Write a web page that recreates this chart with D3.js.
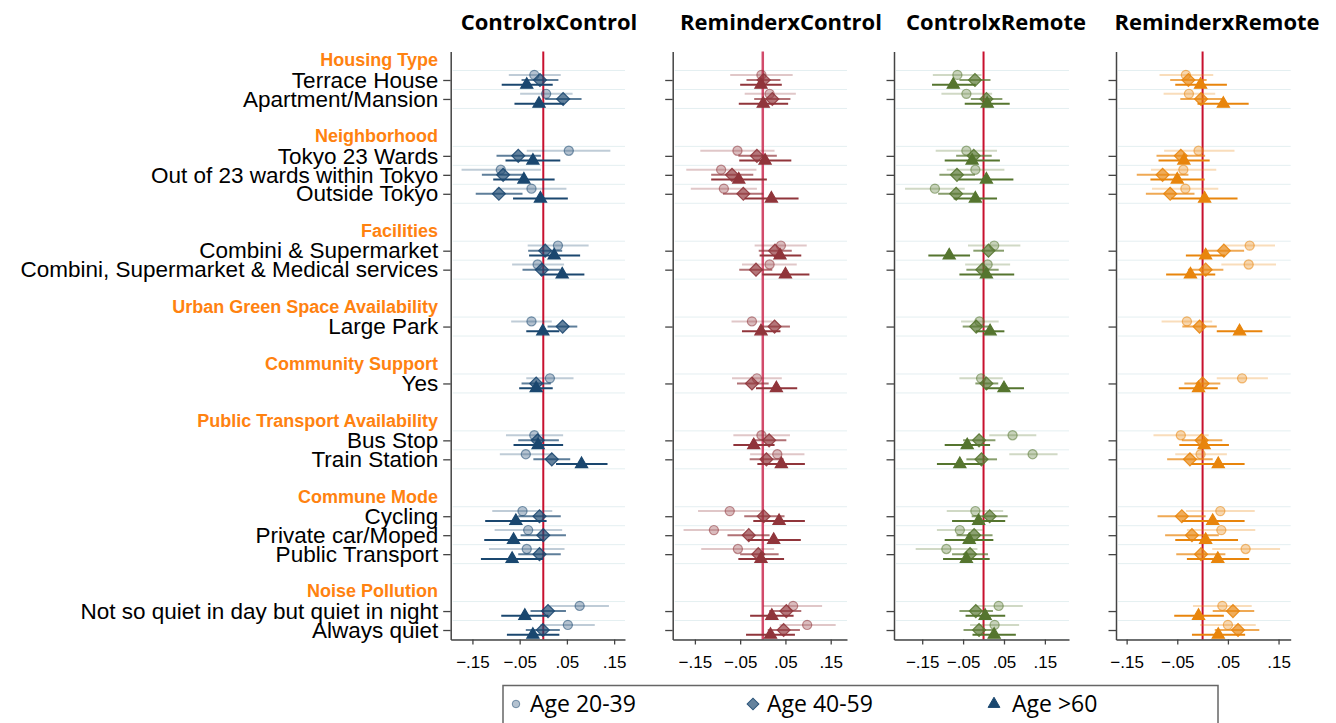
<!DOCTYPE html>
<html>
<head>
<meta charset="utf-8">
<script src="https://cdn.jsdelivr.net/npm/d3@7"></script>
<style>
  body { margin: 0; background: #fff; }
  svg { display: block; }
</style>
</head>
<body>
<div id="chart"></div>
<script>
// 1: DATA
const panelTitles = ["ControlxControl", "ReminderxControl", "ControlxRemote", "ReminderxRemote"];
const ageGroups = ["Age 20-39", "Age 40-59", "Age >60"];
const headers = ["Housing Type", "Neighborhood", "Facilities", "Urban Green Space Availability",
	"Community Support", "Public Transport Availability", "Commune Mode", "Noise Pollution"];
const itemsByGroup = [
	["Terrace House", "Apartment/Mansion"],
	["Tokyo 23 Wards", "Out of 23 wards within Tokyo", "Outside Tokyo"],
	["Combini & Supermarket", "Combini, Supermarket & Medical services"],
	["Large Park"],
	["Yes"],
	["Bus Stop", "Train Station"],
	["Cycling", "Private car/Moped", "Public Transport"],
	["Not so quiet in day but quiet in night", "Always quiet"]
];
const xTicks = [-0.15, -0.05, 0.05, 0.15];

// [estimate, lower CI, upper CI] per item, top to bottom
const cc_age2039 = [[-0.019,-0.073,0.037],[0.006,-0.049,0.062],[0.054,-0.035,0.142],[-0.090,-0.173,-0.005],[-0.025,-0.099,0.049],[0.031,-0.033,0.096],[-0.012,-0.066,0.044],[-0.025,-0.068,0.018],[0.014,-0.036,0.064],[-0.019,-0.079,0.042],[-0.037,-0.092,0.019],[-0.044,-0.108,0.019],[-0.032,-0.103,0.040],[-0.035,-0.115,0.045],[0.077,0.014,0.139],[0.052,-0.007,0.109]];
const cc_age4059 = [[-0.007,-0.046,0.032],[0.042,0.004,0.081],[-0.053,-0.099,-0.005],[-0.085,-0.130,-0.039],[-0.094,-0.143,-0.044],[0.004,-0.032,0.040],[-0.003,-0.044,0.036],[0.041,0.009,0.072],[-0.015,-0.046,0.016],[-0.012,-0.053,0.033],[0.018,-0.021,0.057],[-0.008,-0.053,0.037],[0.000,-0.048,0.048],[-0.008,-0.053,0.037],[0.010,-0.027,0.048],[-0.001,-0.037,0.035]];
const cc_age60 = [[-0.035,-0.088,0.020],[-0.009,-0.061,0.044],[-0.022,-0.080,0.036],[-0.041,-0.106,0.024],[-0.006,-0.064,0.052],[0.023,-0.030,0.078],[0.040,-0.007,0.087],[-0.001,-0.036,0.034],[-0.015,-0.051,0.020],[-0.011,-0.063,0.042],[0.081,0.027,0.136],[-0.058,-0.123,0.007],[-0.063,-0.125,-0.001],[-0.066,-0.132,0.000],[-0.039,-0.089,0.011],[-0.022,-0.077,0.034]];

const rc_age2039 = [[-0.003,-0.072,0.066],[0.015,-0.040,0.073],[-0.056,-0.138,0.026],[-0.092,-0.169,-0.014],[-0.086,-0.159,-0.013],[0.040,-0.018,0.097],[0.015,-0.046,0.075],[-0.024,-0.069,0.021],[-0.013,-0.068,0.042],[-0.003,-0.065,0.060],[0.032,-0.028,0.092],[-0.073,-0.143,-0.002],[-0.108,-0.175,-0.040],[-0.055,-0.136,0.025],[0.067,0.001,0.131],[0.098,0.037,0.161]];
const rc_age4059 = [[0.002,-0.036,0.039],[0.021,-0.019,0.061],[-0.013,-0.054,0.031],[-0.068,-0.114,-0.021],[-0.043,-0.088,0.001],[0.027,-0.009,0.064],[-0.015,-0.052,0.021],[0.026,-0.006,0.060],[-0.024,-0.057,0.013],[0.014,-0.024,0.052],[0.008,-0.029,0.046],[0.002,-0.041,0.048],[-0.031,-0.078,0.015],[-0.010,-0.050,0.035],[0.052,0.014,0.085],[0.046,0.011,0.082]];
const rc_age60 = [[-0.004,-0.050,0.042],[0.001,-0.053,0.056],[0.005,-0.052,0.063],[-0.053,-0.114,0.009],[0.019,-0.040,0.079],[0.038,-0.007,0.085],[0.050,-0.001,0.103],[-0.004,-0.046,0.039],[0.030,-0.015,0.076],[-0.020,-0.065,0.026],[0.041,-0.012,0.093],[0.036,-0.021,0.093],[0.024,-0.033,0.084],[-0.004,-0.054,0.047],[0.020,-0.028,0.068],[0.017,-0.037,0.071]];

const cr_age2039 = [[-0.064,-0.124,-0.005],[-0.042,-0.103,0.021],[-0.042,-0.117,0.033],[-0.020,-0.090,0.051],[-0.119,-0.192,-0.046],[0.026,-0.038,0.090],[0.010,-0.045,0.065],[-0.010,-0.055,0.037],[-0.006,-0.059,0.047],[0.071,0.014,0.129],[0.120,0.063,0.181],[-0.020,-0.090,0.048],[-0.058,-0.114,-0.002],[-0.091,-0.166,-0.015],[0.037,-0.020,0.096],[0.027,-0.033,0.087]];
const cr_age4059 = [[-0.021,-0.059,0.017],[0.007,-0.031,0.046],[-0.024,-0.067,0.020],[-0.065,-0.108,-0.021],[-0.067,-0.111,-0.023],[0.012,-0.025,0.050],[-0.003,-0.042,0.037],[-0.018,-0.051,0.015],[0.007,-0.020,0.036],[-0.011,-0.050,0.029],[-0.005,-0.042,0.033],[0.015,-0.029,0.059],[-0.023,-0.066,0.022],[-0.033,-0.077,0.011],[-0.019,-0.059,0.023],[-0.011,-0.049,0.027]];
const cr_age60 = [[-0.074,-0.126,-0.019],[0.009,-0.046,0.064],[-0.028,-0.095,0.040],[0.007,-0.061,0.073],[-0.020,-0.073,0.033],[-0.084,-0.135,-0.033],[0.007,-0.059,0.075],[0.016,-0.019,0.051],[0.050,0.004,0.099],[-0.040,-0.095,0.016],[-0.058,-0.114,-0.002],[-0.012,-0.077,0.053],[-0.035,-0.095,0.024],[-0.042,-0.099,0.015],[0.004,-0.044,0.053],[0.026,-0.027,0.079]];

const rr_age2039 = [[-0.033,-0.085,0.021],[-0.027,-0.077,0.025],[-0.008,-0.076,0.063],[-0.038,-0.102,0.027],[-0.034,-0.100,0.031],[0.093,0.044,0.143],[0.091,0.037,0.145],[-0.031,-0.081,0.019],[0.078,0.028,0.129],[-0.043,-0.097,0.012],[-0.004,-0.054,0.048],[0.035,-0.033,0.103],[0.037,-0.031,0.104],[0.085,0.019,0.153],[0.039,-0.019,0.097],[0.050,-0.005,0.105]];
const rr_age4059 = [[-0.028,-0.064,0.008],[-0.003,-0.044,0.039],[-0.043,-0.091,0.005],[-0.079,-0.130,-0.028],[-0.064,-0.112,-0.016],[0.042,0.002,0.082],[0.006,-0.029,0.041],[-0.006,-0.040,0.028],[0.000,-0.036,0.035],[-0.002,-0.041,0.039],[-0.025,-0.070,0.020],[-0.041,-0.089,0.006],[-0.021,-0.074,0.032],[-0.003,-0.052,0.045],[0.060,0.020,0.102],[0.070,0.024,0.112]];
const rr_age60 = [[-0.004,-0.054,0.048],[0.041,-0.010,0.091],[-0.037,-0.087,0.014],[-0.050,-0.103,0.004],[0.004,-0.062,0.069],[0.006,-0.033,0.044],[-0.024,-0.072,0.025],[0.073,0.028,0.118],[-0.008,-0.047,0.030],[0.003,-0.046,0.052],[0.031,-0.022,0.083],[0.020,-0.041,0.083],[0.006,-0.054,0.070],[0.030,-0.031,0.092],[-0.008,-0.056,0.042],[0.031,-0.021,0.084]];

const panelData = [
	[cc_age2039, cc_age4059, cc_age60],
	[rc_age2039, rc_age4059, rc_age60],
	[cr_age2039, cr_age4059, cr_age60],
	[rr_age2039, rr_age4059, rr_age60]
];

// 2: LAYOUT
const W = 1336, H = 723;
const panelColors = ["#1a476f", "#90353b", "#55752f", "#e8850c"];
const zeroColors = ["#c8102e", "#d24b6b", "#c8102e", "#c8102e"];
const panelLayout = [
	{ x0: 450.7, x1: 625, domain: [-0.196, 0.173], titleX: 549 },
	{ x0: 672.7, x1: 847, domain: [-0.199, 0.186], titleX: 781 },
	{ x0: 894, x1: 1069, domain: [-0.219, 0.209], titleX: 996 },
	{ x0: 1116, x1: 1290.7, domain: [-0.171, 0.174], titleX: 1217 }
];
const yTop = 51.55, yBottom = 639.5;
const labelFont = "'Liberation Sans', Arial, sans-serif";
const calFont = "'Open Sans', 'Liberation Sans', sans-serif";

// Row slots: header, items, blank gap
const headerRows = [];
const itemRows = [];
let slot = 0;
headers.forEach((h, gi) => {
	headerRows.push({ label: h, slot: slot++ });
	itemsByGroup[gi].forEach(it => itemRows.push({ label: it, slot: slot++ }));
	slot++;
});
const lastSlot = slot - 2;

const y = d3.scaleLinear()
	.domain([-0.5, lastSlot + 0.5])
	.range([yTop, yBottom]);

// marker vertical offsets (slot units) and styles per age group
const ageOffset = [-0.27, 0, 0.25];
const markerOpacity = [0.33, 0.68, 1];
const ciOpacity = [0.28, 0.7, 1];
const symbolTypes = [d3.symbolCircle, d3.symbolSquare, d3.symbolTriangle];
const symbolSizes = [66, 84, 64];
const symbolRotate = [0, 45, 0];

const svg = d3.select("#chart")
	.append("svg")
		.attr("width", W)
		.attr("height", H);

svg.append("rect").attr("width", W).attr("height", H).attr("fill", "#fff");

// 3: PANELS
const gridSlots = Array.from(new Set(itemRows.flatMap(r => [r.slot - 0.5, r.slot + 0.5])));
const fmtTick = d => d3.format(".2f")(d).replace("0.", ".");

panelLayout.forEach((p, pi) => {
	const x = d3.scaleLinear().domain(p.domain).range([p.x0, p.x1]);
	const g = svg.append("g").attr("class", "panel");
	const color = panelColors[pi];

	// faint row gridlines
	g.selectAll(".grid")
		.data(gridSlots)
		.enter()
		.append("line")
			.attr("x1", p.x0 + 2)
			.attr("x2", p.x1)
			.attr("y1", d => y(d))
			.attr("y2", d => y(d))
			.attr("stroke", "#e4eff1")
			.attr("stroke-width", 1);

	// zero reference line
	g.append("line")
		.attr("x1", x(0)).attr("x2", x(0))
		.attr("y1", yTop).attr("y2", yBottom)
		.attr("stroke", zeroColors[pi])
		.attr("stroke-width", pi === 1 ? 2.5 : 2);

	// CIs and markers, age group by age group
	panelData[pi].forEach((series, ai) => {
		const rows = series.map((d, i) => ({ est: d[0], lo: d[1], hi: d[2], slot: itemRows[i].slot + ageOffset[ai] }));

		g.selectAll(".ci" + ai)
			.data(rows)
			.enter()
			.append("line")
				.attr("x1", d => x(d.lo))
				.attr("x2", d => x(d.hi))
				.attr("y1", d => y(d.slot))
				.attr("y2", d => y(d.slot))
				.attr("stroke", color)
				.attr("stroke-opacity", ciOpacity[ai])
				.attr("stroke-width", 2);

		const sym = d3.symbol().type(symbolTypes[ai]).size(symbolSizes[ai]);
		g.selectAll(".pt" + ai)
			.data(rows)
			.enter()
			.append("path")
				.attr("d", sym)
				.attr("transform", d => `translate(${x(d.est)},${y(d.slot)}) rotate(${symbolRotate[ai]})`)
				.attr("fill", color)
				.attr("fill-opacity", markerOpacity[ai])
				.attr("stroke", color)
				.attr("stroke-opacity", Math.min(1, markerOpacity[ai] + 0.2))
				.attr("stroke-width", 1.2);
	});

	// left axis
	const yAxis = d3.axisLeft(y)
		.tickValues(itemRows.map(r => r.slot))
		.tickSize(7.5)
		.tickSizeOuter(0)
		.tickPadding(5)
		.tickFormat((d, i) => pi === 0 ? itemRows[i].label : "");
	const ya = g.append("g")
		.attr("transform", `translate(${p.x0},0)`)
		.call(yAxis);
	ya.select(".domain").attr("stroke", "#444").attr("stroke-width", 1.5);
	ya.selectAll(".tick line").attr("stroke", "#444").attr("stroke-width", 1.3);
	ya.selectAll(".tick text")
		.style("font-family", labelFont)
		.style("font-size", "22.5px")
		.attr("fill", "#000");

	// bottom axis
	const xAxis = d3.axisBottom(x)
		.tickValues(xTicks)
		.tickSize(5)
		.tickSizeOuter(0)
		.tickPadding(11)
		.tickFormat(fmtTick);
	const xa = g.append("g")
		.attr("transform", `translate(0,${yBottom})`)
		.call(xAxis);
	xa.select(".domain").attr("stroke", "#444").attr("stroke-width", 1.5);
	xa.selectAll(".tick line").attr("stroke", "#444").attr("stroke-width", 1.3);
	xa.selectAll(".tick text")
		.style("font-family", labelFont)
		.style("font-size", "17px")
		.attr("fill", "#000");

	// panel title
	svg.append("text")
		.attr("x", p.titleX)
		.attr("y", 30)
		.attr("text-anchor", "middle")
		.style("font-family", calFont)
		.style("font-weight", "bold")
		.style("font-size", "22px")
		.style("fill", "#000")
		.text(panelTitles[pi]);
});

// 4: GROUP HEADERS
svg.selectAll(".header")
	.data(headerRows)
	.enter()
	.append("text")
		.attr("x", 438)
		.attr("y", d => y(d.slot))
		.attr("dy", "0.3em")
		.attr("text-anchor", "end")
		.style("font-family", labelFont)
		.style("font-weight", "bold")
		.style("font-size", "18px")
		.style("fill", "#ff8210")
		.text(d => d.label);

// 5: LEGEND
const legend = svg.append("g");
legend.append("rect")
	.attr("x", 503)
	.attr("y", 685.5)
	.attr("width", 715)
	.attr("height", 50)
	.attr("fill", "#fff")
	.attr("stroke", "#666")
	.attr("stroke-width", 1.5);

const legendX = [516, 753, 994];
const legendSizes = [45, 70, 60];
ageGroups.forEach((name, ai) => {
	legend.append("path")
		.attr("d", d3.symbol().type(symbolTypes[ai]).size(legendSizes[ai]))
		.attr("transform", `translate(${legendX[ai]},704) rotate(${symbolRotate[ai]})`)
		.attr("fill", panelColors[0])
		.attr("fill-opacity", markerOpacity[ai])
		.attr("stroke", panelColors[0])
		.attr("stroke-opacity", Math.min(1, markerOpacity[ai] + 0.2))
		.attr("stroke-width", 1);
	legend.append("text")
		.attr("x", legendX[ai] + (ai === 2 ? 18 : 14))
		.attr("y", 704)
		.attr("dy", "0.35em")
		.style("font-family", calFont)
		.style("font-size", "23px")
		.style("fill", "#000")
		.text(name);
});
</script>
</body>
</html>
